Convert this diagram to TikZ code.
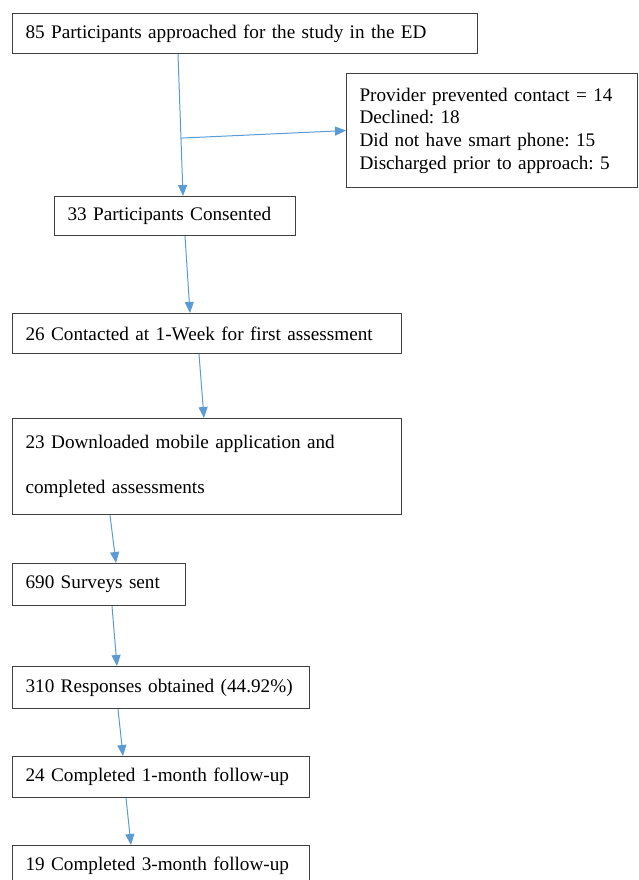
\documentclass[tikz,border=0pt]{standalone}
\usepackage{fontspec}
\setmainfont{Liberation Serif}
\frenchspacing
\usetikzlibrary{arrows.meta, positioning}
\definecolor{flowblue}{RGB}{91,155,213}
\definecolor{boxgray}{RGB}{64,64,64}
\tikzset{
stage/.style={draw=boxgray, line width=1.1pt, anchor=north west, align=left, inner xsep=13pt, inner ysep=0pt, font=\fontsize{19.2}{22.7}\selectfont}, % every box of the flow chart
flow/.style={draw=flowblue, line width=1pt, -{Triangle[length=11pt,width=9pt]}}, % the blue arrows between boxes
}
\begin{document}
\begin{tikzpicture}[x=1pt, y=-1pt]
      \useasboundingbox (0,0) rectangle (638,880);
      \node[stage, text width=439pt, minimum height=40pt] (approached) at (12,13) {85 Participants approached for the study in the ED};
      \node[stage, text width=265pt, minimum height=114pt] (excluded) at (346,73) {Provider prevented contact = 14\\Declined: 18\\Did not have smart phone: 15\\Discharged prior to approach: 5};
      \node[stage, text width=215pt, minimum height=39pt] (consented) at (54,196) {33 Participants Consented};
      \node[stage, text width=363pt, minimum height=40pt] (contacted) at (12,313) {26 Contacted at 1-Week for first assessment};
      \node[stage, text width=363pt, minimum height=96pt] (downloaded) at (12,418) {23 Downloaded mobile application and\\[22.3pt]completed assessments};
      \node[stage, text width=147pt, minimum height=42pt] (sent) at (12,563) {690 Surveys sent};
      \node[stage, text width=271pt, minimum height=42pt] (responses) at (12,666) {310 Responses obtained (44.92\%)};
      \node[stage, text width=271pt, minimum height=41pt] (month1) at (12,756) {24 Completed 1-month follow-up};
      \node[stage, text width=271pt, minimum height=40pt] (month3) at (12,845) {19 Completed 3-month follow-up};

      \coordinate (split) at ([xshift=169pt, yshift=-84pt]approached.south west);

      \draw[flow] ([xshift=166pt]approached.south west) -- ([xshift=129pt]consented.north west);
      \draw[flow] (split) -- (excluded.west);
      \draw[flow] ([xshift=131pt]consented.south west) -- ([xshift=178pt]contacted.north west);
      \draw[flow] ([xshift=187pt]contacted.south west) -- ([xshift=192pt]downloaded.north west);
      \draw[flow] ([xshift=98pt]downloaded.south west) -- ([xshift=104pt]sent.north west);
      \draw[flow] ([xshift=100pt]sent.south west) -- ([xshift=105pt]responses.north west);
      \draw[flow] ([xshift=106pt]responses.south west) -- ([xshift=111pt]month1.north west);
      \draw[flow] ([xshift=114pt]month1.south west) -- ([xshift=119pt]month3.north west);
    \end{tikzpicture}
\end{document}
